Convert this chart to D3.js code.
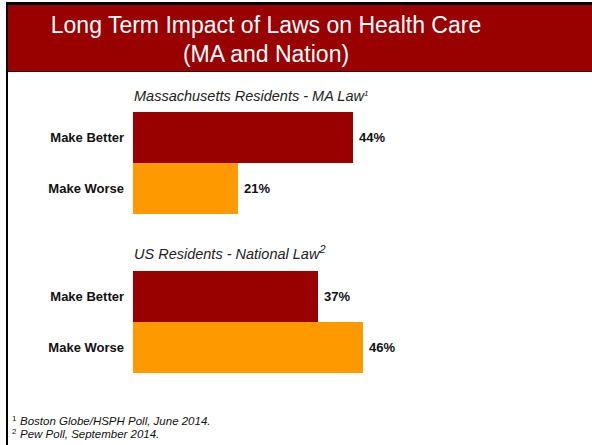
<!DOCTYPE html>
<html>
<head>
<meta charset="utf-8">
<script src="https://cdn.jsdelivr.net/npm/d3@7"></script>
<style>
  html, body { margin: 0; padding: 0; background: #fff; }
  svg { display: block; }
</style>
</head>
<body>
<div id="chart"></div>
<script>
// data
const titleLines = ['Long Term Impact of Laws on Health Care', '(MA and Nation)']
const categories = ['Make Better', 'Make Worse']
const panelTitles = ['Massachusetts Residents - MA Law', 'US Residents - National Law']
const panelNotes = ['1', '2']
const maValues = [44, 21]
const usValues = [37, 46]
const footnotes = [['1', 'Boston Globe/HSPH Poll, June 2014.'], ['2', 'Pew Poll, September 2014.']]

const width = 592, height = 445
const colors = ['#990000', '#FF9900']

const svg = d3.select('#chart').append('svg')
    .attr('width', width)
    .attr('height', height)
    .attr('font-family', "'Liberation Sans', Arial, Helvetica, sans-serif")

// frame + title banner
svg.append('rect').attr('x', 6).attr('y', 2).attr('width', width).attr('height', 4).attr('fill', '#000')
svg.append('rect').attr('x', 6).attr('y', 2).attr('width', 2).attr('height', height).attr('fill', '#000')
svg.append('rect').attr('x', 8).attr('y', 5).attr('width', width).attr('height', 67).attr('fill', '#990000')
svg.append('rect').attr('x', 8).attr('y', 71).attr('width', width).attr('height', 1).attr('fill', '#3a0000')

svg.append('g').selectAll('text')
    .data(titleLines)
    .join('text')
    .attr('x', 266)
    .attr('y', (d, i) => 33 + i * 29)
    .attr('text-anchor', 'middle')
    .attr('fill', '#fff')
    .attr('font-size', 23)
    .text(d => d)

// scales
const x = d3.scaleLinear()
    .domain([0, 50])
    .range([133, 383])

const panels = [
    { title: panelTitles[0], note: panelNotes[0], values: maValues, top: 112, titleY: 101 },
    { title: panelTitles[1], note: panelNotes[1], values: usValues, top: 271, titleY: 259 }
]

panels.forEach(p => {
    const y = d3.scaleBand()
        .domain(categories)
        .range([p.top, p.top + 102])
        .padding(0)

    const g = svg.append('g')
    const rows = categories.map((c, i) => ({ cat: c, value: p.values[i], color: colors[i] }))

    const t = g.append('text')
        .attr('x', 134)
        .attr('y', p.titleY)
        .attr('font-size', 14.5)
        .attr('font-style', 'italic')
        .attr('fill', '#222')
        .text(p.title)
    t.append('tspan')
        .attr('font-size', p.note === '1' ? 8 : 11)
        .attr('dy', p.note === '1' ? -5 : -6)
        .text(p.note)

    g.selectAll('rect')
        .data(rows)
        .join('rect')
        .attr('x', x(0))
        .attr('y', d => y(d.cat))
        .attr('width', d => x(d.value) - x(0))
        .attr('height', y.bandwidth())
        .attr('fill', d => d.color)

    // category labels
    g.selectAll('.cat')
        .data(rows)
        .join('text')
        .attr('class', 'cat')
        .attr('x', 124)
        .attr('y', d => y(d.cat) + y.bandwidth() / 2)
        .attr('dy', '0.35em')
        .attr('text-anchor', 'end')
        .attr('font-size', 13)
        .attr('font-weight', 'bold')
        .attr('fill', '#111')
        .text(d => d.cat)

    // value labels
    g.selectAll('.val')
        .data(rows)
        .join('text')
        .attr('class', 'val')
        .attr('x', d => x(d.value) + 6)
        .attr('y', d => y(d.cat) + y.bandwidth() / 2)
        .attr('dy', '0.35em')
        .attr('font-size', 13)
        .attr('font-weight', 'bold')
        .attr('fill', '#111')
        .text(d => d.value + '%')
})

// footnotes
svg.append('g').selectAll('text')
    .data(footnotes)
    .join('text')
    .attr('x', 12)
    .attr('y', (d, i) => 425 + i * 13)
    .attr('font-size', 11.5)
    .attr('fill', '#111')
    .each(function (d) {
        const el = d3.select(this)
        el.append('tspan').attr('font-size', 8).attr('dy', -4).text(d[0])
        el.append('tspan').attr('x', 20).attr('dy', 4).attr('font-style', 'italic').text(d[1])
    })
</script>
</body>
</html>
